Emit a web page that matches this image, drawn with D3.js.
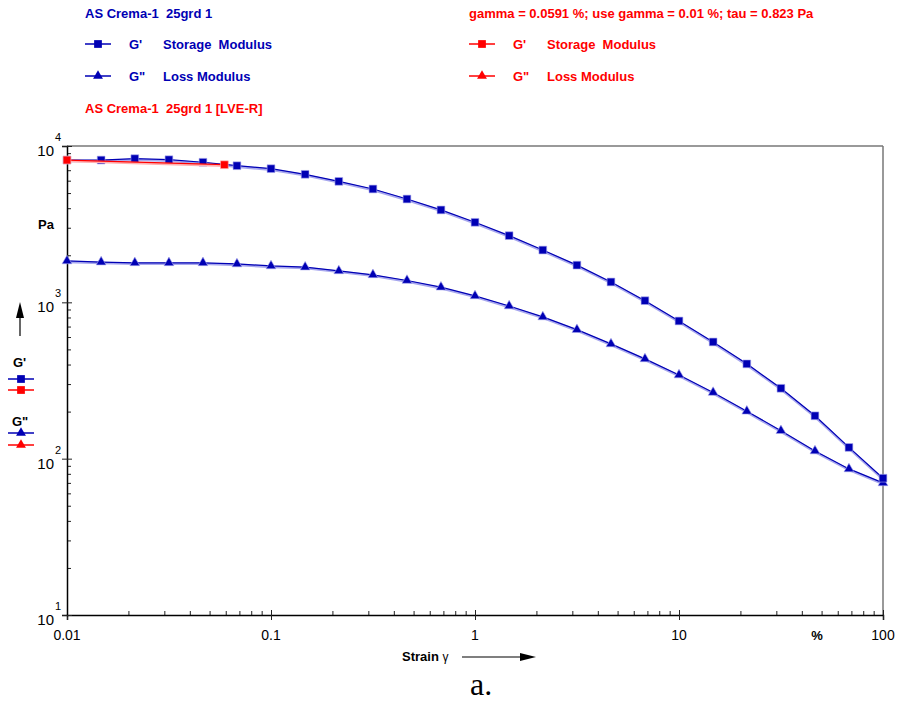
<!DOCTYPE html>
<meta charset="utf-8">
<style>
    body { margin: 0; background: #fff; }
    text { font-family: "Liberation Sans", Arial, sans-serif; white-space: pre; }
    .bold { font-weight: bold; font-size: 13px; }
    .tick-label { font-size: 14px; fill: #000; }
</style>
<svg width="897" height="701"></svg>
<script src="https://d3js.org/d3.v7.min.js"></script>
<script>
    // strain sweep, % (6 points per decade)
    const strain = [0.01, 0.0147, 0.0215, 0.0316, 0.0464, 0.0681,
        0.1, 0.147, 0.215, 0.316, 0.464, 0.681,
        1, 1.47, 2.15, 3.16, 4.64, 6.81,
        10, 14.7, 21.5, 31.6, 46.4, 68.1, 100];
    // G' storage modulus, Pa
    const storage = [8130, 8130, 8300, 8170, 7870, 7480,
        7160, 6590, 5940, 5310, 4580, 3900,
        3250, 2670, 2160, 1730, 1350, 1025,
        760, 558, 404, 282, 188, 118, 75];
    // G'' loss modulus, Pa
    const loss = [1840, 1810, 1790, 1790, 1790, 1760,
        1710, 1680, 1590, 1500, 1380, 1250,
        1100, 948, 807, 669, 542, 435,
        343, 265, 201, 151, 112, 86, 70];
    // LVE-R evaluation
    const lveStrain = [0.01, 0.0591];
    const lveStorage = [8130, 7590];

    const xTicks = [0.01, 0.1, 1, 10, 100];
    const xTickLabels = ["0.01", "0.1", "1", "10", "100"];
    const yTicks = [10, 100, 1000, 10000];
    const yExponents = ["1", "2", "3", "4"];

    const blue = "#0000b4",
        red = "#ff0000";

    var svg = d3.select("svg"),
        margin = { top: 146, right: 14, bottom: 86, left: 67 },
        width = svg.attr("width") - margin.left - margin.right,
        height = svg.attr("height") - margin.top - margin.bottom,
        g = svg.append("g").attr("transform", "translate(" + margin.left + "," + margin.top + ")");

    var x = d3.scaleLog().domain([0.01, 100]).range([0, width]),
        y = d3.scaleLog().domain([10, 10000]).range([height, 0]);

    // minor ticks
    var xMinor = [], yMinor = [];
    [0.01, 0.1, 1, 10].forEach(function(d) {
        for (var i = 2; i < 10; i++) xMinor.push(d * i);
    });
    [10, 100, 1000].forEach(function(d) {
        for (var i = 2; i < 10; i++) yMinor.push(d * i);
    });

    // frame top / right
    g.append("line").attr("x1", 0).attr("x2", width).attr("y1", 0).attr("y2", 0)
        .attr("stroke", "#777").attr("stroke-width", 1.5);
    g.append("line").attr("x1", width).attr("x2", width).attr("y1", 0).attr("y2", height)
        .attr("stroke", "#777").attr("stroke-width", 1.5);

    // x axis
    var xAxis = g.append("g").attr("transform", "translate(0," + height + ")");
    xAxis.append("g")
        .call(d3.axisTop(x).tickValues(xMinor).tickSize(4).tickFormat(""))
        .call(function(a) { a.select(".domain").remove(); });
    xAxis.append("g")
        .call(d3.axisBottom(x).tickValues(xTicks).tickSizeOuter(0).tickSize(5).tickFormat(""))
        .call(function(a) { a.select(".domain").attr("stroke-width", 1.5); });
    xAxis.append("g")
        .call(d3.axisTop(x).tickValues(xTicks).tickSize(5).tickFormat(""))
        .call(function(a) { a.select(".domain").remove(); });
    xAxis.selectAll(".tick line").attr("stroke", "#222");

    g.selectAll(".x-label")
        .data(xTicks)
        .enter().append("text")
        .attr("class", "tick-label")
        .attr("x", function(d) { return x(d); })
        .attr("y", height + 25)
        .attr("text-anchor", "middle")
        .text(function(d, i) { return xTickLabels[i]; });

    g.append("text").attr("class", "bold")
        .attr("x", x(46.4) + 2).attr("y", height + 25)
        .attr("text-anchor", "middle").text("%");

    // y axis
    var yAxis = g.append("g");
    yAxis.append("g")
        .call(d3.axisRight(y).tickValues(yMinor).tickSize(4).tickFormat(""))
        .call(function(a) { a.select(".domain").remove(); });
    yAxis.append("g")
        .call(d3.axisLeft(y).tickValues(yTicks).tickSizeOuter(0).tickSize(5).tickFormat(""))
        .call(function(a) { a.select(".domain").attr("stroke-width", 1.5); });
    yAxis.append("g")
        .call(d3.axisRight(y).tickValues(yTicks).tickSize(5).tickFormat(""))
        .call(function(a) { a.select(".domain").remove(); });
    yAxis.selectAll(".tick line").attr("stroke", "#222");

    var yLab = g.selectAll(".y-label")
        .data(yTicks)
        .enter().append("g")
        .attr("transform", function(d) { return "translate(0," + y(d) + ")"; });
    yLab.append("text")
        .attr("class", "tick-label")
        .attr("x", -13).attr("y", 10)
        .attr("text-anchor", "end")
        .style("font-size", "15px")
        .text("10");
    yLab.append("text")
        .attr("x", -12).attr("y", -5)
        .style("font-size", "11px")
        .text(function(d, i) { return yExponents[i]; });

    // series
    var line = d3.line()
        .x(function(d) { return x(d[0]); })
        .y(function(d) { return y(d[1]); });

    var square = d3.symbol().type(d3.symbolSquare).size(60),
        triangle = d3.symbol().type(d3.symbolTriangle).size(42);

    function drawSeries(xs, ys, color, halo, sym) {
        var pts = xs.map(function(v, i) { return [v, ys[i]]; });
        g.append("path")
            .attr("d", line(pts))
            .attr("fill", "none")
            .attr("stroke", halo)
            .attr("stroke-width", 2.5)
            .attr("transform", "translate(0,1)");
        g.append("path")
            .attr("d", line(pts))
            .attr("fill", "none")
            .attr("stroke", color)
            .attr("stroke-width", 1.2);
        g.selectAll(null)
            .data(pts)
            .enter().append("path")
            .attr("d", sym)
            .attr("fill", color)
            .attr("stroke", halo)
            .attr("stroke-width", 0.6)
            .attr("transform", function(d) { return "translate(" + x(d[0]) + "," + y(d[1]) + ")"; });
    }

    drawSeries(strain, loss, blue, "#a8a8ee", triangle);
    drawSeries(strain, storage, blue, "#a8a8ee", square);
    drawSeries(lveStrain, lveStorage, red, "#ffb0b0", square);

    // legend entries
    function legendMark(px, py, color, sym, len) {
        var lg = svg.append("g").attr("transform", "translate(" + px + "," + py + ")");
        lg.append("line").attr("x1", -len / 2).attr("x2", len / 2)
            .attr("stroke", color).attr("stroke-width", 1.5);
        lg.append("path").attr("d", sym).attr("fill", color);
    }

    function text(px, py, str, color, cls) {
        return svg.append("text").attr("class", cls || "bold")
            .attr("x", px).attr("y", py).attr("fill", color).text(str);
    }

    text(85, 18, "AS Crema-1  25grd 1", blue);
    legendMark(98, 44, blue, square, 26);
    text(129, 49, "G'", blue);
    text(163, 49, "Storage  Modulus", blue);
    legendMark(98, 76, blue, triangle, 26);
    text(129, 81, "G\"", blue);
    text(163, 81, "Loss Modulus", blue);
    text(85, 113, "AS Crema-1  25grd 1 [LVE-R]", red);

    text(469, 18, "gamma = 0.0591 %; use gamma = 0.01 %; tau = 0.823 Pa", red);
    legendMark(482, 44, red, square, 26);
    text(513, 49, "G'", red);
    text(547, 49, "Storage  Modulus", red);
    legendMark(482, 76, red, triangle, 26);
    text(513, 81, "G\"", red);
    text(547, 81, "Loss Modulus", red);

    // y axis title block
    text(38, 229, "Pa", "#000");
    svg.append("line").attr("x1", 20).attr("x2", 20).attr("y1", 336).attr("y2", 312)
        .attr("stroke", "#000").attr("stroke-width", 1.2);
    svg.append("path").attr("d", "M20,302L16,318L24,318Z").attr("fill", "#000");
    text(13, 367, "G'", "#000");
    legendMark(21, 379, blue, square, 26);
    legendMark(21, 390, red, square, 26);
    text(12, 426, "G\"", "#000");
    legendMark(21, 433, blue, triangle, 26);
    legendMark(21, 445, red, triangle, 26);

    // x axis title
    var st = text(402, 661, "Strain ", "#000");
    st.append("tspan").style("font-weight", "normal").style("font-size", "12px").text("γ");
    svg.append("line").attr("x1", 462).attr("x2", 522).attr("y1", 657).attr("y2", 657)
        .attr("stroke", "#000").attr("stroke-width", 1.2);
    svg.append("path").attr("d", "M536,657L520,653L520,661Z").attr("fill", "#000");

    svg.append("text")
        .attr("x", 470).attr("y", 695)
        .style("font-family", "'Liberation Serif', 'Times New Roman', serif")
        .style("font-size", "32px")
        .text("a.");
</script>
